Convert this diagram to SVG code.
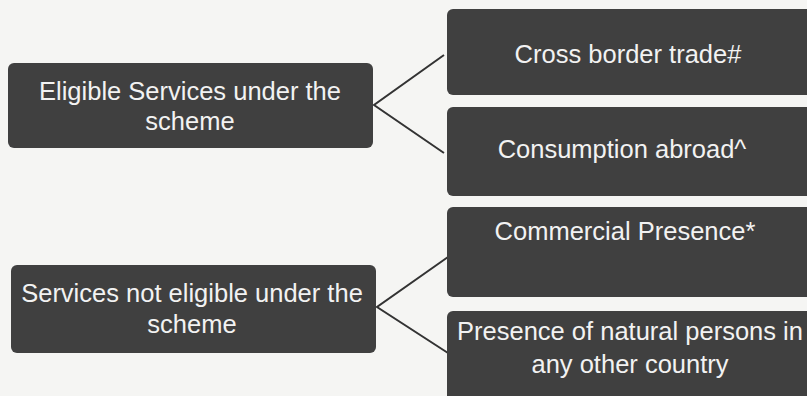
<svg xmlns="http://www.w3.org/2000/svg" width="807" height="396" viewBox="0 0 807 396">
<style>
.box{fill:#404040;}
.t{font-family:"Liberation Sans",Arial,sans-serif;font-size:25.5px;fill:#f2f2f2;text-anchor:middle;}
.c{stroke:#333;stroke-width:2;fill:none;}
</style>
<rect width="807" height="396" fill="#f5f5f3"/>
<g id="connectors">
<polyline class="c" points="444,55 374,105 444,153"/>
<polyline class="c" points="448,257 377,307 448,353"/>
</g>
<g id="eligible">
<rect class="box" x="8" y="63" width="365" height="85" rx="6"/>
<text class="t" x="190" y="100">Eligible Services under the</text>
<text class="t" x="190" y="130">scheme</text>
</g>
<g id="not-eligible">
<rect class="box" x="11" y="265" width="365" height="88" rx="6"/>
<text class="t" x="192" y="302">Services not eligible under the</text>
<text class="t" x="192" y="333">scheme</text>
</g>
<g id="cross-border">
<rect class="box" x="447" y="9" width="370" height="86" rx="6"/>
<text class="t" x="628" y="63">Cross border trade#</text>
</g>
<g id="consumption">
<rect class="box" x="447" y="107" width="370" height="89" rx="6"/>
<text class="t" x="622" y="158">Consumption abroad^</text>
</g>
<g id="commercial">
<rect class="box" x="447" y="207" width="370" height="90" rx="6"/>
<text class="t" x="625" y="240">Commercial Presence*</text>
</g>
<g id="natural-persons">
<rect class="box" x="447" y="311" width="370" height="95" rx="6"/>
<text class="t" x="630" y="340">Presence of natural persons in</text>
<text class="t" x="630" y="373">any other country</text>
</g>
</svg>
